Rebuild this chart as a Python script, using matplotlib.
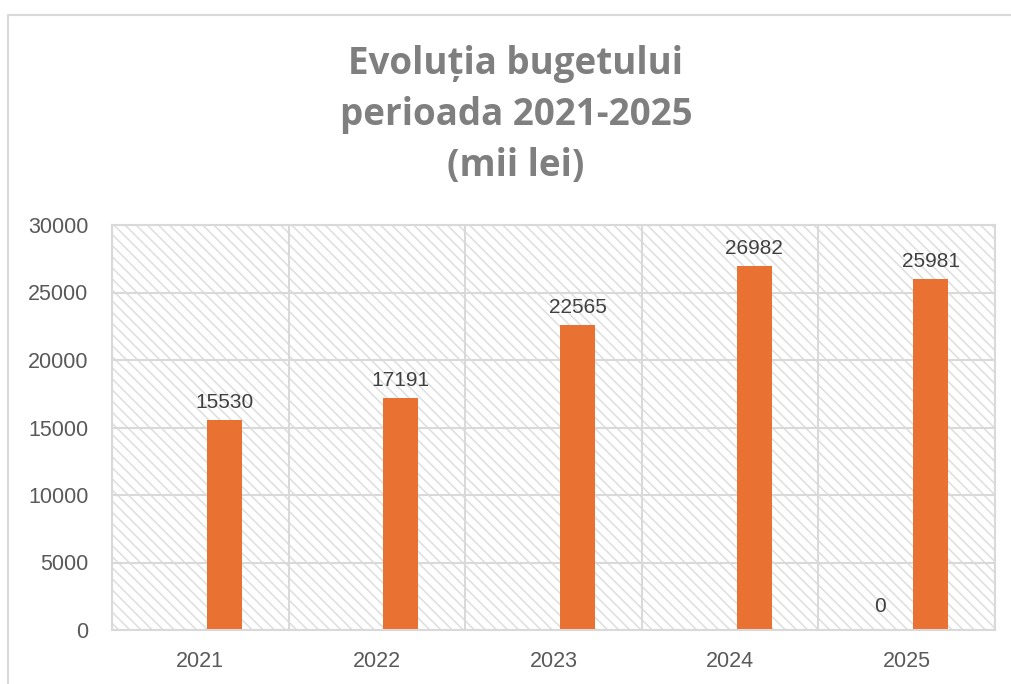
import numpy as np
import matplotlib.pyplot as plt
from matplotlib.patches import Rectangle
from matplotlib.lines import Line2D

years = ["2021", "2022", "2023", "2024", "2025"]
serie_zero = [0, 0, 0, 0, 0]
buget = [15530, 17191, 22565, 26982, 25981]
etichete_zero = ["", "", "", "", "0"]

grid_col = "#d9d9d9"
text_col = "#595959"
plt.rcParams['font.family'] = ['Liberation Sans', 'DejaVu Sans']
plt.rcParams['hatch.linewidth'] = 1.1

fig = plt.figure(figsize=(10.11, 6.84), dpi=100)
ax = fig.add_axes([112/1011, 1-630/684, (995-112)/1011, (630-225)/684])

x = np.arange(len(years))
# fundal hasurat
ax.add_patch(Rectangle((0, 0), 1, 1, transform=ax.transAxes, facecolor="white",
                       edgecolor="#dedede", linewidth=0, hatch="\\\\\\", zorder=0))

ax.bar(x - 0.15, serie_zero, width=0.2, color="#4472c4", zorder=2)
ax.bar(x + 0.136, buget, width=0.198, color="#E97132", zorder=2)

for i in range(len(years)):
    ax.text(x[i] + 0.136, buget[i] + 600, str(buget[i]), ha="center", va="bottom",
            fontsize=15, color="#404040")
    if etichete_zero[i]:
        ax.text(x[i] - 0.15, serie_zero[i] + 1000, etichete_zero[i], ha="center",
                va="bottom", fontsize=15, color="#404040")

ax.set_xlim(-0.5, 4.5)
ax.set_ylim(0, 30000)
ax.set_yticks(np.arange(0, 30001, 5000))
ax.set_xticks(x)
ax.set_xticklabels(years)
ax.set_xticks(np.arange(-0.5, 5, 1), minor=True)
ax.grid(True, axis="y", color=grid_col, linewidth=1.5, zorder=1)
ax.grid(True, axis="x", which="minor", color=grid_col, linewidth=1.5, zorder=1)
ax.tick_params(axis="both", which="both", length=0, labelsize=15.5, colors=text_col)
ax.tick_params(axis="y", pad=17)
ax.tick_params(axis="x", pad=15)
for s in ax.spines.values():
    s.set_color(grid_col)
    s.set_linewidth(1.5)
ax.set_axisbelow(True)

titlu = ["Evoluția bugetului", "perioada 2021-2025", "(mii lei)"]
baze = [74, 125, 176]
for t, yb in zip(titlu, baze):
    fig.text(516/1011, 1-yb/684, t, ha="center", va="baseline",
             fontsize=26.5, fontweight="bold", color="#7f7f7f",
             family=["Open Sans", "DejaVu Sans"])

# chenarul graficului
fig.add_artist(Line2D([8/1011, 8/1011, 1], [0, 1-15/684, 1-15/684],
                      transform=fig.transFigure, color=grid_col, linewidth=1.5))

fig.savefig("out.png", dpi=100)
